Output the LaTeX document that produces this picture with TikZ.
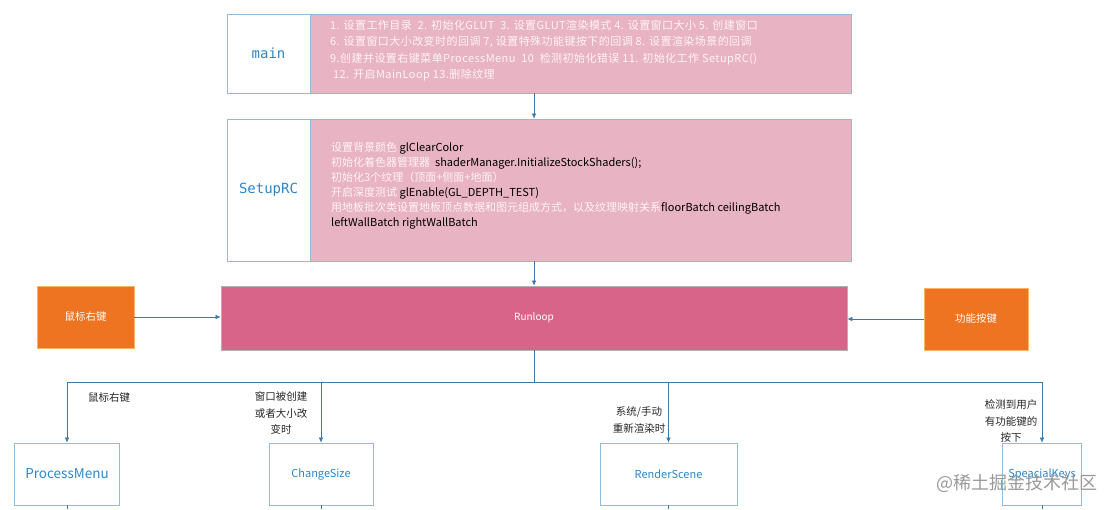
\documentclass[tikz,border=0pt]{standalone}
\usepackage{fontspec}
\setmainfont{Noto Sans CJK SC}
\setsansfont{Noto Sans CJK SC}
\newfontfamily\monof{DejaVu Sans Mono}
\newfontfamily\widefont[LetterSpace=4]{Noto Sans CJK SC}
\usetikzlibrary{arrows.meta,calc}
\definecolor{pinkbox}{HTML}{E8B3C3}
\definecolor{runpink}{HTML}{D9648A}
\definecolor{orangebox}{HTML}{EE7421}
\definecolor{bordblue}{HTML}{8DBCDC}
\definecolor{linkblue}{HTML}{3A78A8}
\definecolor{titleblue}{HTML}{2E86C8}
\definecolor{wtext}{HTML}{FFF4F7}
\tikzset{
  cell/.style={draw=bordblue, line width=0.8pt, inner sep=0pt, rectangle},
  titlecell/.style={cell, fill=white, font=\monof\fontsize{14}{16}\selectfont, text=titleblue},
  infocell/.style={cell, fill=pinkbox},
  infotext/.style={anchor=north west, inner sep=0pt, align=left, text=wtext},
  runbox/.style={draw=black!30, line width=0.8pt, fill=runpink, inner sep=0pt, text=white, font=\fontsize{10}{12}\selectfont},
  keybox/.style={draw=orange!60, line width=0.6pt, fill=orangebox, inner sep=0pt, text=white, font=\fontsize{10.5}{12}\selectfont},
  funcbox/.style={draw=bordblue, line width=0.8pt, fill=white, inner sep=0pt, text=titleblue, font=\fontsize{11}{13}\selectfont},
  arr/.style={draw=linkblue, line width=0.6pt, -{Latex[length=5pt,width=4.5pt]}},
  ln/.style={draw=linkblue, line width=0.6pt},
  lbl/.style={align=center, inner sep=0pt, font=\fontsize{10.5}{16.5}\selectfont, text=black!85}
}
\begin{document}
\begin{tikzpicture}[x=1pt,y=-1pt]
\useasboundingbox (0,0) rectangle (1113,509);
\clip (0,0) rectangle (1113,509);
\fill[white] (0,0) rectangle (1113,509);

% main
\node[titlecell, minimum width=83pt, minimum height=79pt] (mainL) at (268.5,53.5) {main};
\node[infocell, minimum width=541pt, minimum height=79pt] (mainR) at (580.5,53.5) {};
\node[infotext, font=\widefont\fontsize{11}{16.3}\selectfont] (mainT) at (330,20) {%
1. 设置工作目录 \ 2. 初始化GLUT \ 3. 设置GLUT渲染模式 4. 设置窗口大小 5. 创建窗口\\
6. 设置窗口大小改变时的回调 7, 设置特殊功能键按下的回调 8. 设置渲染场景的回调\\
9.创建并设置右键菜单ProcessMenu \ 10 \ 检测初始化错误 11. 初始化工作 SetupRC()\\
\ 12. 开启MainLoop 13.删除纹理};

% SetupRC
\node[titlecell, minimum width=83pt, minimum height=142pt] (setL) at (268.5,190) {SetupRC};
\node[infocell, minimum width=541pt, minimum height=142pt] (setR) at (580.5,190) {};
\node[infotext, font=\fontsize{11}{15}\selectfont] (setT) at (331,142.5) {%
设置背景颜色 \textcolor{black}{glClearColor}\\
初始化着色器管理器 \ \textcolor{black}{shaderManager.InitializeStockShaders();}\\
初始化3个纹理（顶面+侧面+地面）\\
开启深度测试 \textcolor{black}{glEnable(GL\_DEPTH\_TEST)}\\
用地板批次类设置地板顶点数据和图元组成方式，以及纹理映射关系\textcolor{black}{floorBatch ceilingBatch}\\
\textcolor{black}{leftWallBatch rightWallBatch}};

% Runloop and keys
\node[runbox, minimum width=626pt, minimum height=64pt] (run) at (534,318) {Runloop};
\node[keybox, minimum width=97pt, minimum height=62pt] (mouse) at (85.5,317) {鼠标右键};
\node[keybox, minimum width=104pt, minimum height=62pt] (fkey) at (976,319) {功能按键};

% functions
\node[funcbox, minimum width=105pt, minimum height=62pt, font=\fontsize{13.5}{15}\selectfont] (pm) at (67,474) {ProcessMenu};
\node[funcbox, minimum width=104pt, minimum height=62pt] (cs) at (321,474) {ChangeSize};
\node[funcbox, minimum width=137pt, minimum height=62pt] (rs) at (668.5,474) {RenderScene};
\node[funcbox, minimum width=79pt, minimum height=62pt] (sk) at (1042,474) {SpeacialKeys};

% connectors
\draw[arr] (mainR.south -| run.north) -- (setR.north -| run.north);
\draw[arr] (setR.south -| run.north) -- (run.north);
\draw[arr] (mouse.east) -- (mouse.east -| run.west);
\draw[arr] (fkey.west) -- (fkey.west -| run.east);
\coordinate (bus) at ($(run.south)+(0,32)$);
\draw[ln] (run.south) -- (bus);
\draw[ln] (bus -| pm.north) -- (bus -| sk.north);
\draw[arr] (bus -| pm.north) -- (pm.north);
\draw[arr] (bus -| cs.north) -- (cs.north);
\draw[arr] (bus -| rs.north) -- (rs.north);
\draw[arr] (bus -| sk.north) -- (sk.north);
\coordinate (pmb) at (pm.south |- 0,509);
\draw[ln] (pm.south) -- (pmb);
\draw[ln] (cs.south) -- (cs.south |- pmb);
\draw[ln] (rs.south) -- (rs.south |- pmb);
\draw[ln] (sk.south) -- (sk.south |- pmb);

% labels
\node[lbl] (l1) at (109,398) {鼠标右键};
\node[lbl] (l2) at (281,413) {窗口被创建\\或者大小改\\变时};
\node[lbl] (l3) at (639,420) {系统/手动\\重新渲染时};
\node[lbl] (l4) at (1011,421) {检测到用户\\有功能键的\\按下};

% watermark
\node[inner sep=0pt, text=black!40, font=\fontsize{18}{20}\selectfont, anchor=east] (wm) at (1098,483) {@稀土掘金技术社区};
\end{tikzpicture}
\end{document}
